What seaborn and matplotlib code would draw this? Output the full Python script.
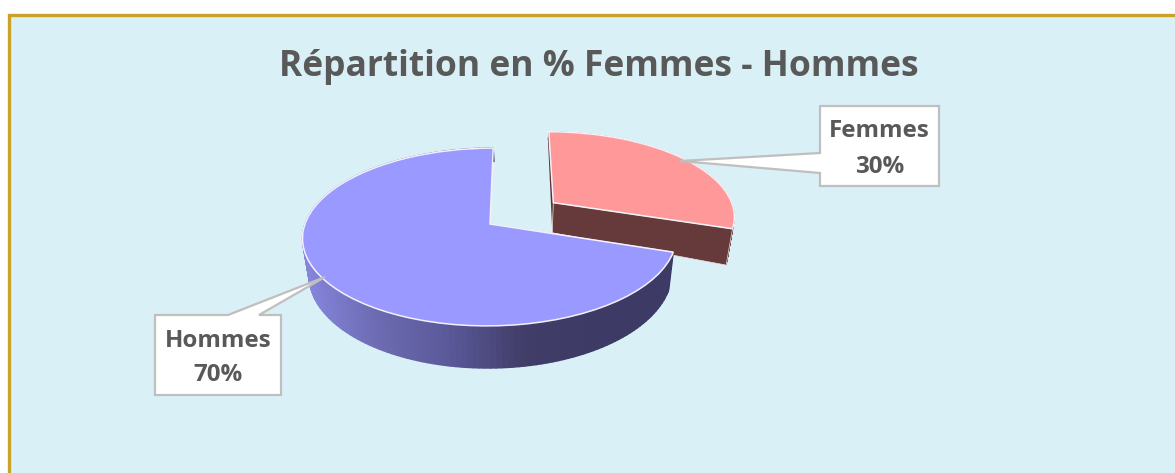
import numpy as np
import matplotlib
matplotlib.use("Agg")
import matplotlib.pyplot as plt
from matplotlib.patches import Polygon, Rectangle
from matplotlib.collections import PolyCollection
from matplotlib.transforms import Transform
import seaborn as sns

# ---- data ----
categories = ["Femmes", "Hommes"]
values = [30, 70]
title_text = "Répartition en % Femmes - Hommes"

# ---- styles ----
TOP_COLORS = ["#FF9999", "#9999FF"]
WALL_FEMMES = "#663A3A"
EXPLODE = [0.433, 0.0]
FONT = "Open Sans"
TXT = "#595959"
A, B, K, CX, CY = 185.0, 87.0, 0.146, 490.0, 224.0   # view of the unit disc
SHEAR = 3.2
VP_X, SHRINK, H = 520.0, 0.97, 36.0

sns.set_theme(style="white")
plt.rcParams["font.family"] = [FONT, "DejaVu Sans"]


def project(u, v, bottom=False):
    """Perspective view of the pie plane, in pixels."""
    u, v = np.asarray(u, float), np.asarray(v, float)
    w = 1 + K * v
    x = CX + A * u / w + SHEAR * v
    y = CY - B * v / w
    if bottom:
        x = VP_X + (x - VP_X) * SHRINK
        y = y + H / w - 18 * np.clip(v, 0, None)
    return x, y


class Perspective(Transform):
    input_dims = output_dims = 2
    is_separable = False
    has_inverse = False

    def transform_non_affine(self, values):
        x, y = project(values[:, 0], values[:, 1])
        return np.column_stack([x, y])


fig = plt.figure(figsize=(11.75, 4.73), dpi=100, facecolor="white")
ax = fig.add_axes([0, 0, 1, 1])

fractions = np.asarray(values, float) / np.sum(values)
wedges, _ = ax.pie(values, explode=EXPLODE, colors=TOP_COLORS, startangle=90,
                   counterclock=False, radius=1.0,
                   wedgeprops=dict(edgecolor="#F4F1FA", linewidth=1.1))
ax.set_aspect("auto")
ax.set_xlim(0, 1175)
ax.set_ylim(473, 0)
ax.set_axis_off()

# frame
ax.add_patch(Rectangle((8.5, 15.5), 1300, 600, facecolor="#DAF0F7",
                       edgecolor="#C9A227", linewidth=2.4, zorder=0))

# angular extents taken from the data
stops = 90 - 360 * np.concatenate([[0], np.cumsum(fractions)])
mids = np.radians((stops[:-1] + stops[1:]) / 2)
offs = [(e * np.cos(m), e * np.sin(m)) for e, m in zip(EXPLODE, mids)]

shade = sns.blend_palette(["#8686DE", "#6C6BB2", "#5A5898", "#403D68", "#3D3B66", "#3D3B66"], 256)


def side_quads(a0, a1, off, n=160):
    th = np.radians(np.linspace(a0, a1, n))
    u, v = off[0] + np.cos(th), off[1] + np.sin(th)
    xt, yt = project(u, v)
    xb, yb = project(u, v, bottom=True)
    return [np.array([[xt[i], yt[i]], [xt[i + 1], yt[i + 1]],
                      [xb[i + 1], yb[i + 1]], [xb[i], yb[i]]]) for i in range(n - 1)]


def cut_face(angle, off):
    th = np.radians(angle)
    us = np.array([off[0], off[0] + np.cos(th)])
    vs = np.array([off[1], off[1] + np.sin(th)])
    xt, yt = project(us, vs)
    xb, yb = project(us, vs, bottom=True)
    return np.array([[xt[0], yt[0]], [xt[1], yt[1]], [xb[1], yb[1]], [xb[0], yb[0]]])


# Femmes walls
q = side_quads(stops[0], stops[1], offs[0])
ax.add_collection(PolyCollection(q, facecolors=WALL_FEMMES, edgecolors=WALL_FEMMES,
                                 linewidths=0.4, zorder=2))
ax.add_patch(Polygon(cut_face(stops[0], offs[0]), facecolor="#5A3434", edgecolor="none", zorder=2.1))
ax.add_patch(Polygon(cut_face(stops[1], offs[0]), facecolor=WALL_FEMMES, edgecolor="#E8E0E0",
                     linewidth=0.5, zorder=2.2))
wedges[0].set_zorder(3)

# Hommes walls and faces
ax.add_patch(Polygon(cut_face(stops[1], offs[1]), facecolor="#8080D8", edgecolor="#C8C8F0",
                     linewidth=0.8, zorder=3.5))
q = side_quads(stops[1], stops[2], offs[1])
xm = np.array([p[:, 0].mean() for p in q])
idx = np.clip(((xm - 303) / (670 - 303) * 255).astype(int), 0, 255)
cols = [shade[i] for i in idx]
ax.add_collection(PolyCollection(q, facecolors=cols, edgecolors=cols, linewidths=1.0, zorder=4))
wedges[1].set_zorder(5)

persp = Perspective()
for w in wedges:
    w.set_transform(persp + ax.transData)

# title
ax.text(599, 67, title_text, ha="center", va="center", fontsize=25.5, fontweight="bold",
        color=TXT, zorder=10)


# callouts
def callout(x0, x1, y_name, y_pct, pointer, name, pct):
    ax.add_patch(Polygon(pointer, closed=True, facecolor="white", edgecolor="#BFBFBF",
                         linewidth=1.6, joinstyle="miter", zorder=8))
    ax.text((x0 + x1) / 2, y_name, name, ha="center", va="center", fontsize=17.4,
            fontweight="bold", color=TXT, zorder=10)
    ax.text((x0 + x1) / 2, y_pct, pct, ha="center", va="center", fontsize=17.4,
            fontweight="bold", color=TXT, zorder=10)


def label(i):
    return categories[i], f"{values[i]}%"


callout(820, 939, 131, 167,
        [(820, 106), (939, 106), (939, 186), (820, 186), (820, 173), (680, 161), (820, 153)],
        *label(0))
callout(155, 281, 341, 375,
        [(155, 315), (228, 315), (325, 277), (259, 315), (281, 315), (281, 395), (155, 395)],
        *label(1))

fig.savefig("out.png", dpi=100, facecolor="white")
